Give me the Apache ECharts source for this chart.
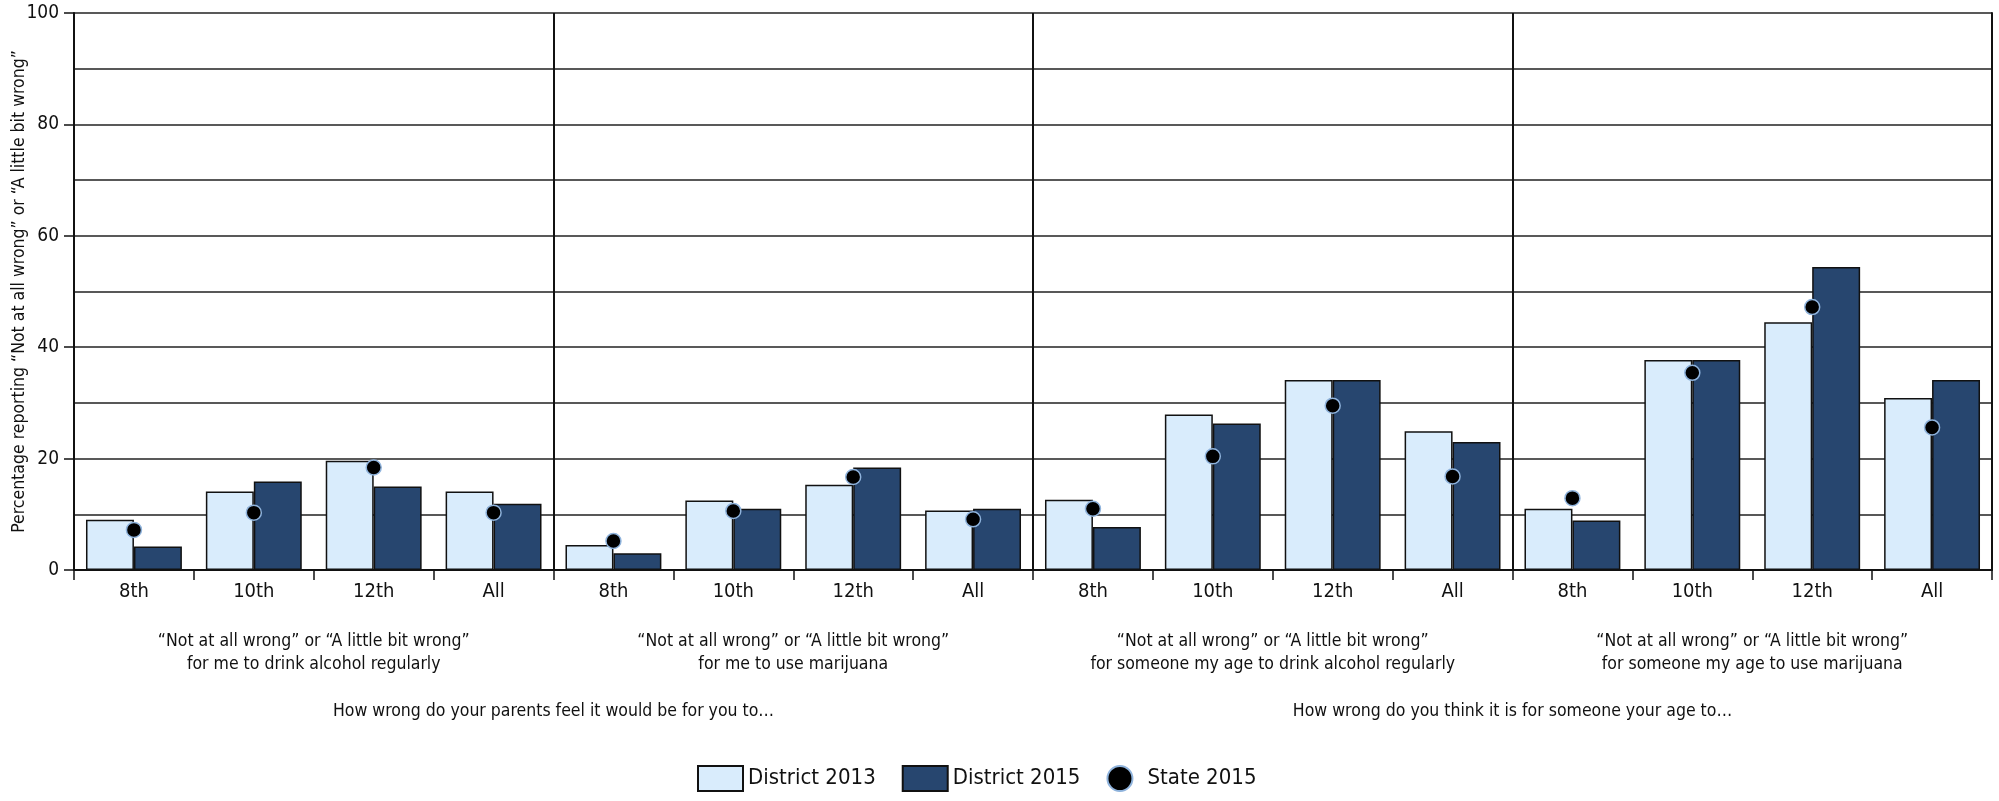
<!DOCTYPE html>
<html>
<head>
<meta charset="utf-8">
<script src="https://cdn.jsdelivr.net/npm/echarts@6/dist/echarts.min.js"></script>
<style>
  html, body { margin: 0; padding: 0; background: #fff; }
  #main { width: 1999px; height: 801px; }
</style>
</head>
<body>
<div id="main"></div>
<script>
var FONT = '"DejaVu Sans Condensed", "Liberation Sans", sans-serif';

// grades inside each question panel
var grades = ['8th', '10th', '12th', 'All'];
var questions = [
    '“Not at all wrong” or “A little bit wrong”\nfor me to drink alcohol regularly',
    '“Not at all wrong” or “A little bit wrong”\nfor me to use marijuana',
    '“Not at all wrong” or “A little bit wrong”\nfor someone my age to drink alcohol regularly',
    '“Not at all wrong” or “A little bit wrong”\nfor someone my age to use marijuana'
];
var askedAbout = [
    'How wrong do your parents feel it would be for you to…',
    'How wrong do you think it is for someone your age to…'
];

// values: 4 panels x 4 grades
var district2013 = [9, 14.1, 19.6, 14.1,   4.5, 12.5, 15.3, 10.7,   12.6, 27.9, 34.1, 24.9,   11.0, 37.7, 44.5, 30.9];
var district2015 = [4.2, 15.9, 15.0, 11.9,  3.0, 11.0, 18.4, 11.0,   7.7, 26.3, 34.1, 23.0,    8.9, 37.7, 54.4, 34.1];
var state2015    = [7.2, 10.3, 18.4, 10.3,  5.2, 10.6, 16.7,  9.1,  11.0, 20.4, 29.5, 16.8,   12.9, 35.4, 47.2, 25.6];

var categories = [];
questions.forEach(function (q, qi) {
    grades.forEach(function (g) { categories.push(g + '|' + qi); });
});

var chartDom = document.getElementById('main');
var myChart = echarts.init(chartDom);
var option;

option = {
    animation: false,
    textStyle: { fontFamily: FONT, color: '#111' },
    grid: { left: 74, right: 7, top: 13, bottom: 231, containLabel: false, outerBoundsMode: 'none' },
    legend: {
        bottom: 4,
        left: 692,
        itemWidth: 45,
        itemHeight: 25,
        itemGap: 26,
        textStyle: { fontFamily: FONT, fontSize: 22, color: '#111' },
        data: [
            { name: 'District 2013', icon: 'rect' },
            { name: 'District 2015', icon: 'rect' },
            { name: 'State 2015', icon: 'circle' }
        ]
    },
    xAxis: [
        {
            type: 'category',
            data: categories,
            boundaryGap: true,
            axisLine: { lineStyle: { color: '#111', width: 2 } },
            axisTick: { show: true, length: 10, lineStyle: { color: '#111', width: 1.5 } },
            axisLabel: {
                fontFamily: FONT, fontSize: 20, color: '#111', margin: 12,
                formatter: function (v) { return v.split('|')[0]; }
            },
            splitLine: {
                show: true,
                interval: function (i) { return i % 4 === 0; },
                lineStyle: { color: '#111', width: 2 }
            }
        },
        {
            type: 'category',
            data: questions,
            position: 'bottom',
            offset: 52,
            axisLine: { show: false },
            axisTick: { show: false },
            axisLabel: { interval: 0, fontFamily: FONT, fontSize: 17.5, lineHeight: 23, color: '#111', margin: 8 }
        },
        {
            type: 'category',
            data: askedAbout,
            position: 'bottom',
            offset: 124,
            axisLine: { show: false },
            axisTick: { show: false },
            axisLabel: { interval: 0, fontFamily: FONT, fontSize: 17.5, color: '#111', margin: 8 }
        }
    ],
    yAxis: [
        {
            type: 'value',
            min: 0,
            max: 100,
            interval: 20,
            name: 'Percentage reporting “Not at all wrong” or “A little bit wrong”',
            nameLocation: 'middle',
            nameGap: 46,
            nameMoveOverlap: false,
            nameTextStyle: { fontFamily: FONT, fontSize: 17.5, color: '#111' },
            axisLine: { show: true, lineStyle: { color: '#111', width: 2 } },
            axisTick: { show: true, length: 10, lineStyle: { color: '#111', width: 1.5 } },
            axisLabel: { fontFamily: FONT, fontSize: 19, color: '#111', margin: 15 },
            splitLine: { show: true, lineStyle: { color: '#222', width: 1.5 } },
            minorTick: { show: false, splitNumber: 2 },
            minorSplitLine: { show: true, lineStyle: { color: '#222', width: 1.5 } }
        },
        {
            type: 'value',
            position: 'right',
            min: 0,
            max: 100,
            axisLine: { show: true, lineStyle: { color: '#111', width: 2 } },
            axisTick: { show: false },
            axisLabel: { show: false },
            splitLine: { show: false }
        }
    ],
    series: [
        {
            name: 'District 2013',
            type: 'bar',
            data: district2013,
            barGap: '0%',
            barCategoryGap: '20%',
            itemStyle: { color: '#d9ecfc', borderColor: '#111', borderWidth: 1.5 }
        },
        {
            name: 'District 2015',
            type: 'bar',
            data: district2015,
            itemStyle: { color: '#27466f', borderColor: '#111', borderWidth: 1.5 }
        },
        {
            name: 'State 2015',
            type: 'scatter',
            data: state2015,
            symbol: 'circle',
            symbolSize: 15,
            z: 5,
            itemStyle: { color: '#000', opacity: 1, borderColor: '#8fb3dc', borderWidth: 1.5 }
        }
    ]
};

option && myChart.setOption(option);
</script>
</body>
</html>
